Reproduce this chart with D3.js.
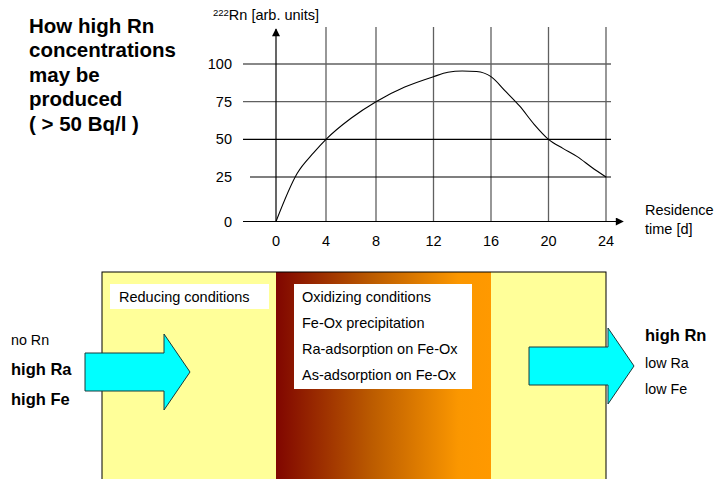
<!DOCTYPE html>
<html><head><meta charset="utf-8">
<script src="https://cdn.jsdelivr.net/npm/d3@7/dist/d3.min.js"></script>
<style>body{margin:0;background:#fff}svg{display:block;font-family:"Liberation Sans",Arial,sans-serif}</style>
</head><body>
<script>
// ---- data ----
const xTicks = [0, 4, 8, 12, 16, 20, 24];
const yTicks = [0, 25, 50, 75, 100];
const times  = [0, 1.7, 3, 4, 6, 8, 10, 12, 13, 14, 15, 16, 17, 18, 19, 20, 21, 22, 23, 24];
const radon  = [0, 27.5, 41, 50, 64, 75, 84.7, 91.6, 94.5, 95.4, 95.0, 91.6, 82, 72, 60, 50, 44, 38.5, 31.5, 25];
const titleLines = ["How high Rn", "concentrations", "may be", "produced", "( > 50 Bq/l )"];
const oxLines = ["Oxidizing conditions", "Fe-Ox precipitation", "Ra-adsorption on Fe-Ox", "As-adsorption on Fe-Ox"];
const inLabels = [{t:"no Rn", b:false}, {t:"high Ra", b:true}, {t:"high Fe", b:true}];
const outLabels = [{t:"high Rn", b:true}, {t:"low Ra", b:false}, {t:"low Fe", b:false}];

const W = 715, H = 479;
const svg = d3.select("body").append("svg").attr("width", W).attr("height", H);

const x = d3.scaleLinear().domain([0, 8, 24]).range([276, 376, 606]);
const y = d3.scaleLinear().domain([0, 25, 100]).range([221.5, 177, 64]);
const fs = 14.5;

// title
const tt = svg.append("text").attr("font-weight", "bold").attr("font-size", 20.5).attr("fill", "#000");
titleLines.forEach((l, i) => tt.append("tspan").attr("x", 29).attr("y", 33 + i * 24.4).text(l));

// grid
const g = svg.append("g");
g.selectAll(".vg").data(xTicks.slice(1)).join("line")
  .attr("x1", d => x(d)).attr("x2", d => x(d)).attr("y1", 27).attr("y2", y(0))
  .attr("stroke", "#606060").attr("stroke-width", 1.3);
g.selectAll(".hg").data(yTicks.slice(1)).join("line")
  .attr("x1", d => d === 25 ? 250 : 243).attr("x2", 611)
  .attr("y1", d => y(d)).attr("y2", d => y(d))
  .attr("stroke", d => d >= 75 ? "#606060" : "#000").attr("stroke-width", d => d >= 75 ? 1.3 : 1.1);

// axes with arrows
svg.append("defs").html(`<marker id="ar" viewBox="0 0 10 10" refX="9" refY="5" markerWidth="10" markerHeight="8" markerUnits="userSpaceOnUse" orient="auto"><path d="M0,0 L10,5 L0,10 z" fill="#000"/></marker>
<linearGradient id="ox" x1="0" x2="1" y1="0" y2="0"><stop offset="0" stop-color="#800600"/><stop offset="0.45" stop-color="#bc5c00"/><stop offset="0.85" stop-color="#fb9700"/><stop offset="1" stop-color="#ff9900"/></linearGradient>`);
svg.append("line").attr("x1", 243).attr("x2", 623).attr("y1", y(0)).attr("y2", y(0))
  .attr("stroke", "#000").attr("stroke-width", 1.2).attr("marker-end", "url(#ar)");
svg.append("line").attr("x1", x(0)).attr("x2", x(0)).attr("y1", y(0)).attr("y2", 29)
  .attr("stroke", "#000").attr("stroke-width", 1.2).attr("marker-end", "url(#ar)");

// tick labels
svg.selectAll(".xt").data(xTicks).join("text")
  .attr("x", d => x(d)).attr("y", 246).attr("text-anchor", "middle").attr("font-size", fs).text(d => d);
svg.selectAll(".yt").data(yTicks).join("text")
  .attr("x", 232).attr("y", d => y(d) + 5).attr("text-anchor", "end").attr("font-size", fs).text(d => d);

// axis titles
const yl = svg.append("text").attr("x", 213).attr("y", 20).attr("font-size", fs);
yl.append("tspan").attr("font-size", 9.5).attr("dy", -4).text("222");
yl.append("tspan").attr("dy", 4).text("Rn [arb. units]");
svg.append("text").attr("x", 645).attr("y", 215).attr("font-size", fs).text("Residence");
svg.append("text").attr("x", 645).attr("y", 234).attr("font-size", fs).text("time [d]");

// curve
const pts = times.map((t, i) => [t, radon[i]]);
svg.append("path").datum(pts)
  .attr("d", d3.line().x(d => x(d[0])).y(d => y(d[1])).curve(d3.curveMonotoneX))
  .attr("fill", "none").attr("stroke", "#000").attr("stroke-width", 1.1);

// lower schematic
const boxTop = 272, boxBot = 481, boxLeft = 102;
svg.append("rect").attr("x", boxLeft).attr("y", boxTop).attr("width", x(0) - boxLeft).attr("height", boxBot - boxTop).attr("fill", "#ffff99");
svg.append("rect").attr("x", x(0)).attr("y", boxTop).attr("width", x(16) - x(0)).attr("height", boxBot - boxTop).attr("fill", "url(#ox)");
svg.append("rect").attr("x", x(16)).attr("y", boxTop).attr("width", x(24) - x(16)).attr("height", boxBot - boxTop).attr("fill", "#ffff99");
svg.append("rect").attr("x", boxLeft).attr("y", boxTop).attr("width", x(24) - boxLeft).attr("height", boxBot - boxTop)
  .attr("fill", "none").attr("stroke", "#000").attr("stroke-width", 1);

// text boxes
svg.append("rect").attr("x", 110).attr("y", 284).attr("width", 159).attr("height", 25).attr("fill", "#fff");
svg.append("text").attr("x", 119).attr("y", 302).attr("font-size", fs).text("Reducing conditions");
svg.append("rect").attr("x", 294).attr("y", 284).attr("width", 178).attr("height", 105).attr("fill", "#fff");
svg.selectAll(".ox").data(oxLines).join("text")
  .attr("x", 302).attr("y", (d, i) => 302 + i * 26).attr("font-size", fs).text(d => d);

// arrows
function arrow(x0, xs, xt, yc, hs, hh) {
  return `M${x0},${yc - hs}H${xs}V${yc - hh}L${xt},${yc}L${xs},${yc + hh}V${yc + hs}H${x0}Z`;
}
svg.append("path").attr("d", arrow(85, 164, 190, 372, 19, 38))
  .attr("fill", "#00ffff").attr("stroke", "#1a3a3a").attr("stroke-width", 1);
svg.append("path").attr("d", arrow(529, 608, 634, 366, 19, 38))
  .attr("fill", "#00ffff").attr("stroke", "#1a3a3a").attr("stroke-width", 1);

// side labels
svg.selectAll(".inl").data(inLabels).join("text")
  .attr("x", 11).attr("y", (d, i) => 345 + i * 30).attr("font-size", d => d.b ? 16.5 : 14.3)
  .attr("font-weight", d => d.b ? "bold" : "normal").text(d => d.t);
svg.selectAll(".outl").data(outLabels).join("text")
  .attr("x", 645).attr("y", (d, i) => 341 + i * 26.5).attr("font-size", d => d.b ? 16.5 : 14.3)
  .attr("font-weight", d => d.b ? "bold" : "normal").text(d => d.t);
</script>
</body></html>
